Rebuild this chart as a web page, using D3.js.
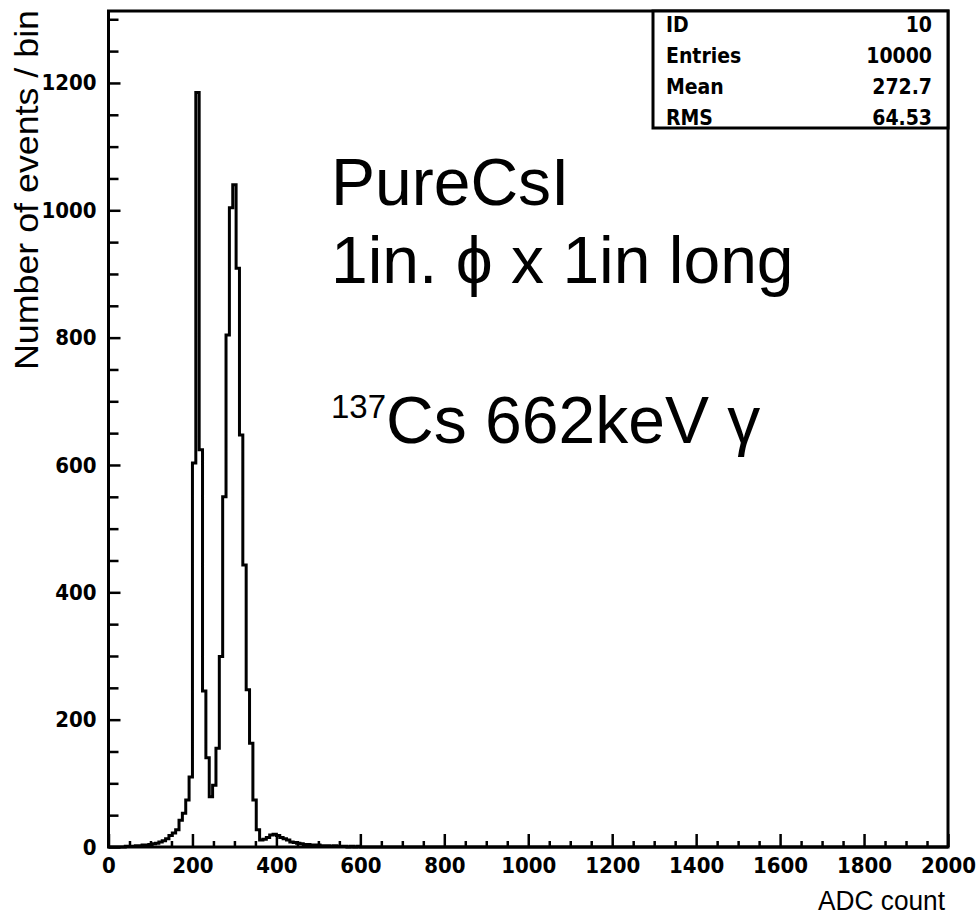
<!DOCTYPE html>
<html><head><meta charset="utf-8">
<script src="https://cdn.jsdelivr.net/npm/d3@7"></script>
<style>
body{margin:0;background:#fff}
.tick text{font-family:'DejaVu Sans Condensed','DejaVu Sans',sans-serif;font-stretch:condensed;font-weight:bold;font-size:22px;fill:#000}
</style>
</head><body>
<svg id="c" width="977" height="916"></svg>
<script>
// ADC bin lower edges (bin width 8 ADC counts)
const binLow = [0,8,16,24,32,40,48,56,64,72,80,88,96,104,112,120,128,136,144,152,160,168,176,184,192,
  200,208,216,224,232,240,248,256,264,272,280,288,296,304,312,320,328,336,344,352,
  360,368,376,384,392,400,408,416,424,432,440,448,456,464,472,480,488,496,504,512,520,528,536,544,552,560,568,576,584,592];
// number of events per bin
const counts = [0,0,0,0,0,1,1,1,2,2,3,3,4,5,6,8,10,13,18,22,27,42,53,74,110,
  603,1185,624,245,140,79,97,155,299,550,804,1004,1040,909,647,443,247,163,74,27,
  11,12,15,19,20,18,15,13,11,8,7,6,5,4,4,3,3,3,2,2,2,1,2,1,1,1,0,1,0,1];
const xTicks = [0,200,400,600,800,1000,1200,1400,1600,1800,2000];
const yTicks = [0,200,400,600,800,1000,1200];
const statLabels = ["ID","Entries","Mean","RMS"];
const statValues = ["10","10000","272.7","64.53"];
const xTitle = "ADC count";
const yTitle = "Number of events / bin";

const svg = d3.select("#c");
const x = d3.scaleLinear().domain([0,2000]).range([108.5,948]);
const y = d3.scaleLinear().domain([0,1313]).range([847,11]);
const bw = binLow[1]-binLow[0];

// histogram step line
let d = `M${x(0)},${y(0)}`;
binLow.forEach((lo,i)=>{ d += `V${y(counts[i])}H${x(lo+bw)}`; });
d += `V${y(0)}H${x(2000)}`;
svg.append("path").attr("d",d).attr("fill","none").attr("stroke","#000")
  .attr("stroke-width",3).attr("stroke-linejoin","miter");

// minor ticks
const minor = d3.range(0,2001,50).filter(v=>v%200!==0);
const minorY = d3.range(0,1301,50).filter(v=>v%200!==0);
const gxm = svg.append("g").attr("transform",`translate(0,${y(0)})`)
  .call(d3.axisBottom(x).tickValues(minor).tickSize(-6).tickFormat(""));
const gym = svg.append("g").attr("transform",`translate(${x(0)},0)`)
  .call(d3.axisLeft(y).tickValues(minorY).tickSize(-10).tickFormat(""));
// major ticks
const gx = svg.append("g").attr("transform",`translate(0,${y(0)})`)
  .call(d3.axisBottom(x).tickValues(xTicks).tickSize(-13).tickPadding(10).tickFormat(d3.format("d")));
const gy = svg.append("g").attr("transform",`translate(${x(0)},0)`)
  .call(d3.axisLeft(y).tickValues(yTicks).tickSize(-12).tickPadding(12).tickFormat(d3.format("d")));
[gxm,gym,gx,gy].forEach(g=>{ g.select(".domain").remove(); g.selectAll("line").attr("stroke","#000").attr("stroke-width",2.5); });

// frame
svg.append("rect").attr("x",x(0)).attr("y",y(1313)).attr("width",x(2000)-x(0)).attr("height",y(0)-y(1313))
  .attr("fill","none").attr("stroke","#000").attr("stroke-width",3);

// stats box
svg.append("rect").attr("x",653).attr("y",y(1313)).attr("width",x(2000)-653).attr("height",128-y(1313))
  .attr("fill","#fff").attr("stroke","#000").attr("stroke-width",3);
const st = svg.append("g").style("font-family","'DejaVu Sans Condensed','DejaVu Sans',sans-serif")
  .style("font-stretch","condensed").style("font-weight","bold").style("font-size","21px");
statLabels.forEach((s,i)=>{
  st.append("text").attr("x",666).attr("y",32+31*i).text(s);
  st.append("text").attr("x",932).attr("y",32+31*i).attr("text-anchor","end").text(statValues[i]);
});

// axis titles
svg.append("text").attr("x",945).attr("y",910).attr("text-anchor","end")
  .style("font-family","'Liberation Sans',Arial,sans-serif").style("font-size","27px")
  .attr("textLength",127).attr("lengthAdjust","spacingAndGlyphs").text(xTitle);
svg.append("text").attr("transform","translate(38,190) rotate(-90)").attr("text-anchor","middle")
  .style("font-family","'Liberation Sans',Arial,sans-serif").style("font-size","34px")
  .attr("textLength",360).attr("lengthAdjust","spacingAndGlyphs")
  .text(yTitle);

// annotation
const ann = svg.append("g").style("font-family","'Liberation Sans',Arial,sans-serif").style("font-size","66px").attr("fill","#000");
ann.append("text").attr("x",331).attr("y",205).text("PureCsI");
ann.append("text").attr("x",331).attr("y",283).text("1in. \u03D5 x 1in long");
const t3 = ann.append("text").attr("x",331).attr("y",443);
t3.append("tspan").style("font-size","33px").attr("dy",-25).text("137");
t3.append("tspan").attr("dy",25).text("Cs 662keV \u03B3");
</script>
</body></html>
